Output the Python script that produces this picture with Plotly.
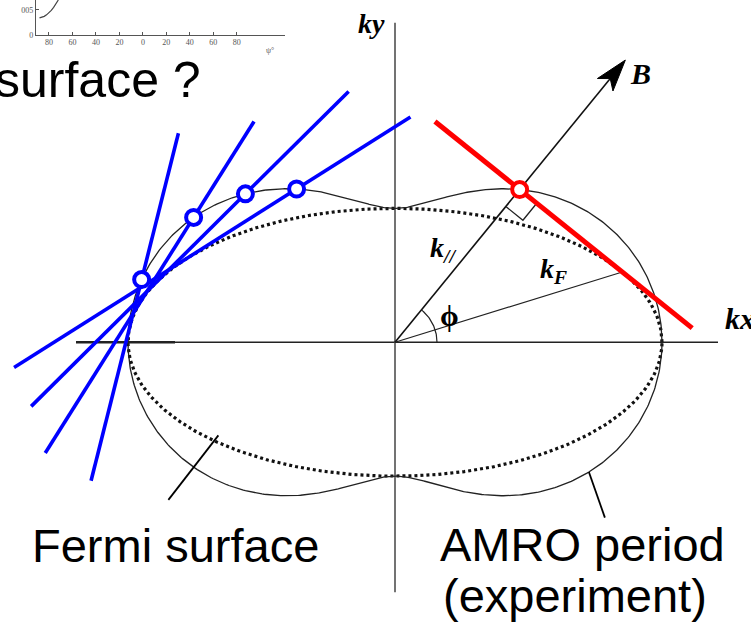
import numpy as np
import plotly.graph_objects as go

# ---- Fermi surface (ellipse) in k-space units ------------------------------
FS_A, FS_B = 267.0, 135.0            # semi-axes along kx and ky

# ---- field direction and the construction drawn for it ----------------------
B_ANGLE = 51.0                       # degrees from kx
B_LENGTH = 366.0                     # origin -> arrow tip
KF_ANGLE = 17.3                      # polar angle of the k_F radius
PHI_RADIUS = 42.0
RIGHT_ANGLE_SIZE = 22.0
RED_EXTENT = (109.0, 222.0)          # along the tangent, before / after the foot point

# ---- trial field directions (blue): tangent lines and their foot points ----
BLUE_ANGLES = [166.0, 148.0, 135.0, 122.5]
BLUE_UP = [152.0, 114.0, 146.0, 135.0]
BLUE_DOWN = [209.0, 280.0, 303.0, 335.0]

# ---- coordinate axes --------------------------------------------------------
KX_EXTENT = (-319.0, 323.0)
KX_THICK_END = -220.0
KY_EXTENT = (-252.0, 322.0)

# ---- leader lines: polar angle of the anchor on each curve, label offset ----
FS_LEADER_ANGLE = 208.0
FS_LEADER_SCALE = 0.96
FS_LEADER_OFFSET = (-50.0, -65.0)
AMRO_LEADER_ANGLE = -34.0
AMRO_LEADER_OFFSET = (16.0, -46.0)

# ---- inset: AMRO period versus field angle ---------------------------------
INSET_PSI = [-88, -86, -84, -82, -80, -78, -76, -74, -72]
INSET_PERIOD = [0.034, 0.035, 0.037, 0.040, 0.044, 0.049, 0.055, 0.062, 0.070]
INSET_TICKS = [-80, -60, -40, -20, 0, 20, 40, 60, 80]
INSET_TICKTEXT = ["80", "60", "40", "20", "0", "20", "40", "60", "80"]

SERIF = "Liberation Serif, Times New Roman, serif"
SANS = "Liberation Sans, Arial, sans-serif"
BLUE = "#0000ff"
RED = "#ff0000"


def fs_radius(t):
    return FS_A * FS_B / np.sqrt((FS_B * np.cos(t)) ** 2 + (FS_A * np.sin(t)) ** 2)


def amro_radius(t):
    # pedal curve of the ellipse: largest projection of the Fermi surface on direction t
    return np.sqrt((FS_A * np.cos(t)) ** 2 + (FS_B * np.sin(t)) ** 2)


def unit(deg):
    r = np.radians(deg)
    return np.array([np.cos(r), np.sin(r)])


fig = go.Figure()


def line(xs, ys, color="black", width=1.5, dash="solid"):
    fig.add_trace(go.Scatter(x=list(xs), y=list(ys), mode="lines",
                             line=dict(color=color, width=width, dash=dash),
                             hoverinfo="skip"))


def tangent(deg, before, after):
    """Foot point on the AMRO curve and the Fermi-surface tangent normal to deg.

    'before' runs against the clockwise tangent direction, 'after' along it."""
    n = unit(deg)
    foot = amro_radius(np.radians(deg)) * n
    along = np.array([n[1], -n[0]])
    return foot, foot - before * along, foot + after * along, along


# axes
line([KX_EXTENT[0], KX_EXTENT[1]], [0, 0], color="#222", width=1.4)
line([KX_EXTENT[0], KX_THICK_END], [0, 0], color="#222", width=2.6)
line([0, 0], [KY_EXTENT[0], KY_EXTENT[1]], color="#444", width=1.5)

# Fermi surface (dotted) and AMRO period curve (solid)
t = np.linspace(0, 2 * np.pi, 721)
r_fs = fs_radius(t)
line(r_fs * np.cos(t), r_fs * np.sin(t), color="#111", width=3.2, dash="3px,3px")
r_am = amro_radius(t)
line(r_am * np.cos(t), r_am * np.sin(t), color="#222", width=1.3)

# B direction, k_parallel
uB = unit(B_ANGLE)
tip = B_LENGTH * uB
line([0, tip[0] - 20 * uB[0]], [0, tip[1] - 20 * uB[1]], color="#111", width=1.6)
nB = np.array([-uB[1], uB[0]])
head = [tip, tip - 32 * uB + 10 * nB, tip - 24 * uB, tip - 32 * uB - 10 * nB, tip]
fig.add_trace(go.Scatter(x=[p[0] for p in head], y=[p[1] for p in head], mode="lines",
                         fill="toself", fillcolor="black", line=dict(color="black", width=1),
                         hoverinfo="skip"))

# k_F radius
kf = fs_radius(np.radians(KF_ANGLE)) * unit(KF_ANGLE)
line([0, kf[0]], [0, kf[1]], color="#222", width=1.2)

# angle arc phi
arc = np.radians(np.linspace(0, B_ANGLE, 40))
line(PHI_RADIUS * np.cos(arc), PHI_RADIUS * np.sin(arc), color="#222", width=1.2)

# foot point for B, right-angle mark
foot, ra, rb, uT = tangent(B_ANGLE, *RED_EXTENT)
s = RIGHT_ANGLE_SIZE
sq = [foot - s * uB, foot - s * uB + s * uT, foot + s * uT]
line([p[0] for p in sq], [p[1] for p in sq], color="#222", width=1.3)

# leader lines
fa = np.radians(FS_LEADER_ANGLE)
fs_anchor = FS_LEADER_SCALE * fs_radius(fa) * np.array([np.cos(fa), np.sin(fa)])
line([fs_anchor[0], fs_anchor[0] + FS_LEADER_OFFSET[0]],
     [fs_anchor[1], fs_anchor[1] + FS_LEADER_OFFSET[1]], width=1.8)
aa = np.radians(AMRO_LEADER_ANGLE)
am_anchor = amro_radius(aa) * np.array([np.cos(aa), np.sin(aa)])
line([am_anchor[0], am_anchor[0] + AMRO_LEADER_OFFSET[0]],
     [am_anchor[1], am_anchor[1] + AMRO_LEADER_OFFSET[1]], width=1.8)

# blue trial tangents (lower-left end first, then up to the upper-right end)
cx, cy = [], []
for ang, up, down in zip(BLUE_ANGLES, BLUE_UP, BLUE_DOWN):
    f, a, b, _ = tangent(ang, down, up)
    line([a[0], b[0]], [a[1], b[1]], color=BLUE, width=3.6)
    cx.append(f[0])
    cy.append(f[1])

# red tangent for the actual field direction
line([ra[0], rb[0]], [ra[1], rb[1]], color=RED, width=5)

fig.add_trace(go.Scatter(x=cx, y=cy, mode="markers",
                         marker=dict(size=15, color="white", line=dict(color=BLUE, width=4)),
                         hoverinfo="skip"))
fig.add_trace(go.Scatter(x=[foot[0]], y=[foot[1]], mode="markers",
                         marker=dict(size=15, color="white", line=dict(color=RED, width=4)),
                         hoverinfo="skip"))

# inset plot
fig.add_trace(go.Scatter(x=INSET_PSI, y=INSET_PERIOD, mode="lines", xaxis="x2", yaxis="y2",
                         line=dict(color="#444", width=1.2), hoverinfo="skip"))

ann = []


def label(x, y, text, size, family=SERIF, xanchor="center", yanchor="middle", color="black"):
    ann.append(dict(x=x, y=y, xref="x", yref="y", text=text, showarrow=False,
                    font=dict(family=family, size=size, color=color),
                    xanchor=xanchor, yanchor=yanchor))


label(-24, 321, "<b><i>ky</i></b>", 28)
label(328, 24, "<b><i>kx</i></b>", 30, xanchor="left")
label(245, 271, "<b><i>B</i></b>", 30)
label(48, 94, "<b><i>k<sub>//</sub></i></b>", 28)
label(158, 72, "<b><i>k<sub>F</sub></i></b>", 28)
label(54, 27, "<b>ϕ</b>", 30)
label(-365, -205, "Fermi surface", 47, family=SANS, xanchor="left")
label(43, -204, "AMRO period", 47, family=SANS, xanchor="left")
label(46, -255, "(experiment)", 47, family=SANS, xanchor="left")
label(-192, 264, "surface ?", 50, family=SANS, xanchor="right")

ann.append(dict(x=270 / 751, y=1 - 44 / 627, xref="paper", yref="paper", text="ψ°",
                showarrow=False, font=dict(family=SERIF, size=8, color="#555")))

fig.update_layout(
    width=751, height=627, margin=dict(l=0, r=0, t=0, b=0),
    paper_bgcolor="white", plot_bgcolor="rgba(0,0,0,0)", showlegend=False,
    xaxis=dict(range=[-395, 356], visible=False, domain=[0, 1]),
    yaxis=dict(range=[-282, 345], visible=False, domain=[0, 1]),
    xaxis2=dict(range=[-91, 121], domain=[36 / 751, 285 / 751], anchor="y2",
                showline=True, linecolor="#555", linewidth=1.2, showgrid=False, zeroline=False,
                tickvals=INSET_TICKS, ticktext=INSET_TICKTEXT, ticks="inside", ticklen=3,
                tickcolor="#555", tickfont=dict(family=SERIF, size=8, color="#555")),
    yaxis2=dict(range=[0, 0.07], domain=[1 - 35 / 627, 1], anchor="x2",
                showline=True, linecolor="#555", linewidth=1.2, showgrid=False, zeroline=False,
                tickvals=[0, 0.05], ticktext=["0", "005"], ticks="inside", ticklen=3,
                tickcolor="#555", tickfont=dict(family=SERIF, size=8, color="#555")),
    annotations=ann,
)

fig.write_html("out.html")
